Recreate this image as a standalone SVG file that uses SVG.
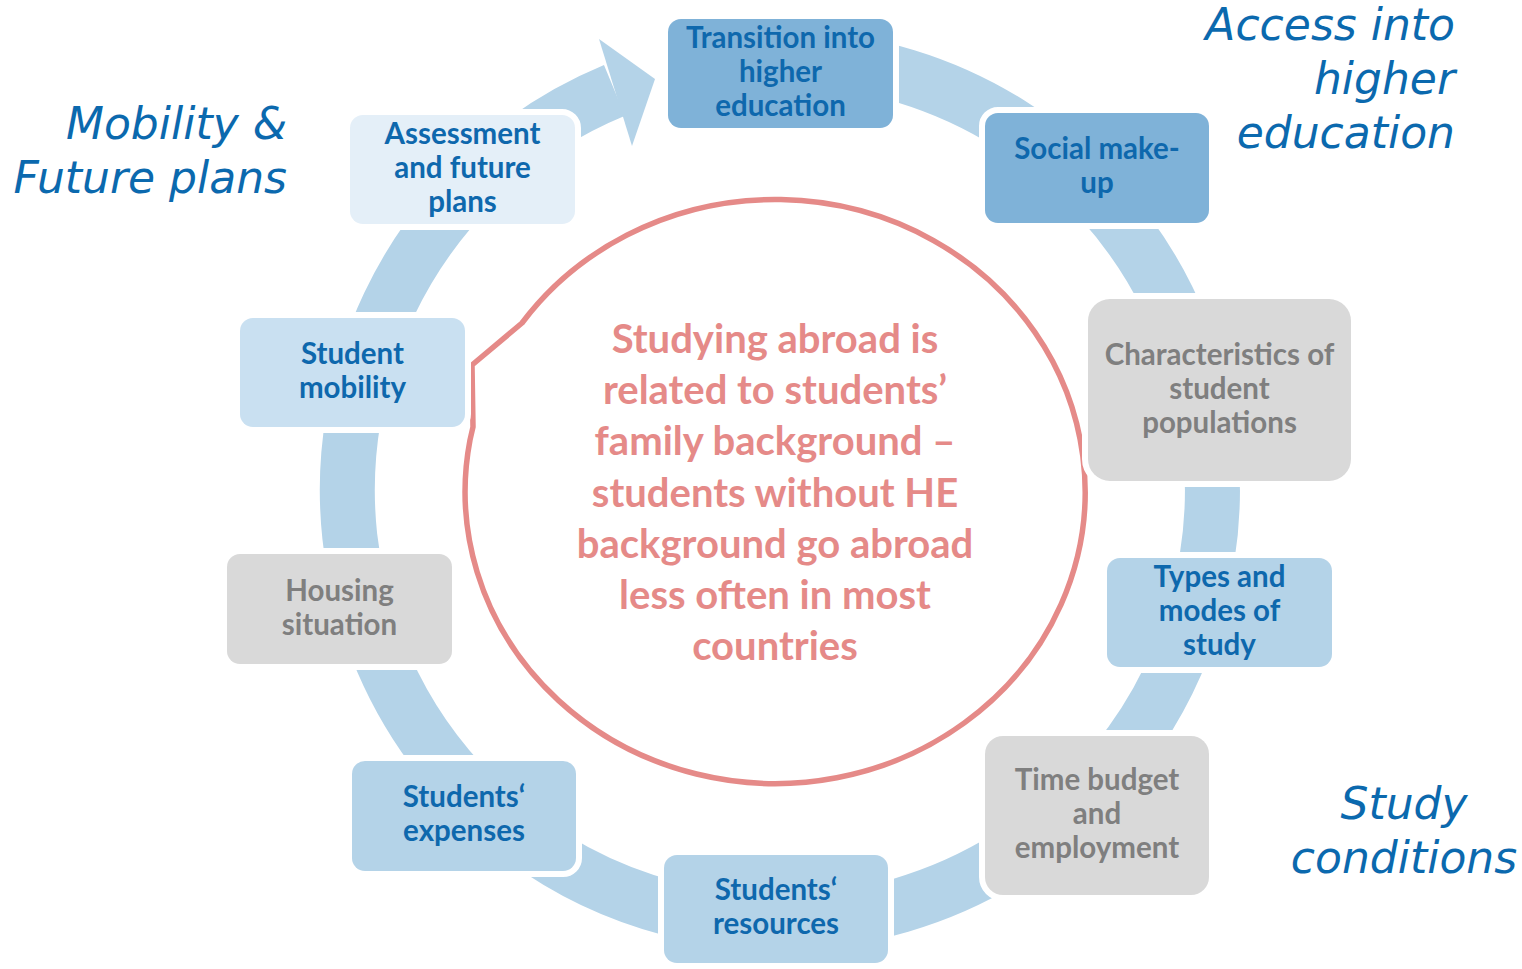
<svg xmlns="http://www.w3.org/2000/svg" width="1522" height="969" viewBox="0 0 1522 969">
<style>
.box{stroke:#ffffff;stroke-width:12;paint-order:stroke}
.dk{fill:#7fb2d8}
.md{fill:#b4d3e8}
.lt{fill:#c9e0f1}
.vl{fill:#e4eff8}
.gr{fill:#d9d9d9}
.t{font-family:Lato,"Open Sans","DejaVu Sans",sans-serif;font-weight:bold;font-size:29.5px;text-anchor:middle}
.tb{fill:#0e68ad}
.tg{fill:#7f7f7f}
.lab{font-family:"DejaVu Sans",Verdana,sans-serif;font-style:italic;font-size:44px;fill:#0b69ae}
.ct{font-family:Lato,"Open Sans","DejaVu Sans",sans-serif;font-weight:bold;font-size:40px;fill:#e58a88;text-anchor:middle}
</style>
<rect width="1522" height="969" fill="#ffffff"/>
<g id="connectors">
<path d="M 704.9 64.1 A 432.5 432.5 0 1 1 614.5 90.4" fill="none" stroke="#b4d3e8" stroke-width="55"/>
<polygon points="599,39 655,79 632,146" fill="#b4d3e8"/>
</g>
<g id="labels">
<text class="lab" text-anchor="end"><tspan x="1455" y="40">Access into</tspan><tspan x="1455" y="94">higher</tspan><tspan x="1455" y="148">education</tspan></text>
<text class="lab" text-anchor="end"><tspan x="287" y="139">Mobility &amp;</tspan><tspan x="287" y="193">Future plans</tspan></text>
<text class="lab" text-anchor="middle"><tspan x="1404" y="819">Study</tspan><tspan x="1404" y="873">conditions</tspan></text>
</g>
<g id="center">
<path d="M 522 323 A 310 292 0 1 1 470 440 L 473 427 L 472 365 Z" fill="#ffffff" stroke="#e58a88" stroke-width="5.5" stroke-linejoin="round"/>
<text class="ct"><tspan x="775" y="353">Studying abroad is</tspan><tspan x="775" y="404">related to students’</tspan><tspan x="775" y="455">family background –</tspan><tspan x="775" y="506.5">students without HE</tspan><tspan x="775" y="558">background go abroad</tspan><tspan x="775" y="609">less often in most</tspan><tspan x="775" y="660">countries</tspan></text>
</g>
<g id="n-transition">
<rect class="box dk" x="668" y="19" width="225" height="109" rx="13"/>
<text class="t tb"><tspan x="780.5" y="48">Transition into</tspan><tspan x="780.5" y="82">higher</tspan><tspan x="780.5" y="116">education</tspan></text>
</g>
<g id="n-social">
<rect class="box dk" x="985" y="113" width="224" height="110" rx="13"/>
<text class="t tb"><tspan x="1097" y="159">Social make-</tspan><tspan x="1097" y="193">up</tspan></text>
</g>
<g id="n-characteristics">
<rect class="box gr" x="1088" y="299" width="263" height="182" rx="22"/>
<text class="t tg"><tspan x="1219.5" y="365">Characteristics of</tspan><tspan x="1219.5" y="399">student</tspan><tspan x="1219.5" y="433">populations</tspan></text>
</g>
<g id="n-types">
<rect class="box md" x="1107" y="558" width="225" height="109" rx="13"/>
<text class="t tb"><tspan x="1219.5" y="587">Types and</tspan><tspan x="1219.5" y="621">modes of</tspan><tspan x="1219.5" y="655">study</tspan></text>
</g>
<g id="n-time">
<rect class="box gr" x="985" y="736" width="224" height="159" rx="18"/>
<text class="t tg"><tspan x="1097" y="790">Time budget</tspan><tspan x="1097" y="824">and</tspan><tspan x="1097" y="858">employment</tspan></text>
</g>
<g id="n-resources">
<rect class="box md" x="664" y="855" width="224" height="108" rx="13"/>
<text class="t tb"><tspan x="776" y="900">Students‘</tspan><tspan x="776" y="934">resources</tspan></text>
</g>
<g id="n-expenses">
<rect class="box md" x="352" y="761" width="224" height="110" rx="13"/>
<text class="t tb"><tspan x="464" y="807">Students‘</tspan><tspan x="464" y="841">expenses</tspan></text>
</g>
<g id="n-housing">
<rect class="box gr" x="227" y="554" width="225" height="110" rx="13"/>
<text class="t tg"><tspan x="339.5" y="601">Housing</tspan><tspan x="339.5" y="635">situation</tspan></text>
</g>
<g id="n-mobility">
<rect class="box lt" x="240" y="318" width="225" height="109" rx="13"/>
<text class="t tb"><tspan x="352.5" y="364">Student</tspan><tspan x="352.5" y="398">mobility</tspan></text>
</g>
<g id="n-assessment">
<rect class="box vl" x="350" y="115" width="225" height="109" rx="13"/>
<text class="t tb"><tspan x="462.5" y="144">Assessment</tspan><tspan x="462.5" y="178">and future</tspan><tspan x="462.5" y="212">plans</tspan></text>
</g>
</svg>
